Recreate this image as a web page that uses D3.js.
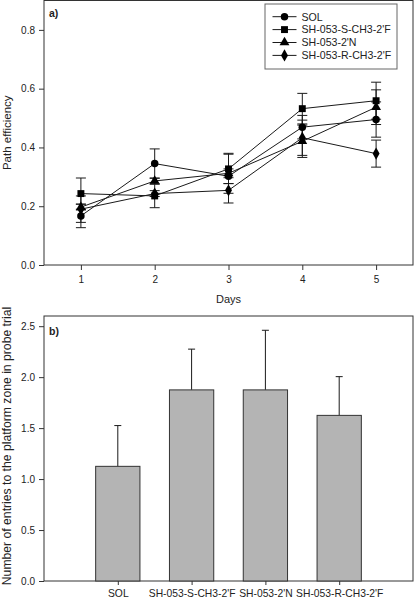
<!DOCTYPE html>
<html><head><meta charset="utf-8">
<script src="https://cdn.jsdelivr.net/npm/d3@7"></script>
<style>body{margin:0;background:#fff}svg{display:block}text{font-family:"Liberation Sans",Arial,sans-serif;fill:#222}</style>
</head><body>
<svg id="c" width="414" height="599"></svg>
<script>
const days = [1, 2, 3, 4, 5];
const seriesNames = ["SOL", "SH-053-S-CH3-2'F", "SH-053-2'N", "SH-053-R-CH3-2'F"];
const solMean = [0.167, 0.345, 0.302, 0.469, 0.495];
const solErr  = [0.040, 0.050, 0.025, 0.040, 0.060];
const sMean   = [0.243, 0.235, 0.327, 0.532, 0.559];
const sErr    = [0.053, 0.040, 0.050, 0.052, 0.063];
const nMean   = [0.197, 0.286, 0.312, 0.421, 0.537];
const nErr    = [0.010, 0.010, 0.068, 0.055, 0.059];
const rMean   = [0.190, 0.243, 0.254, 0.433, 0.379];
const rErr    = [0.045, 0.010, 0.043, 0.060, 0.046];
const yTicksA = [0.0, 0.2, 0.4, 0.6, 0.8];

const barCats  = ["SOL", "SH-053-S-CH3-2'F", "SH-053-2'N", "SH-053-R-CH3-2'F"];
const barMeans = [1.125, 1.875, 1.875, 1.625];
const barErrs  = [0.400, 0.400, 0.585, 0.380];
const yTicksB  = [0.0, 0.5, 1.0, 1.5, 2.0, 2.5];

const svg = d3.select("#c");
const L = 44, R = 413;
const ink = "#1a1a1a";

// ---------- Panel a ----------
const xa = d3.scaleLinear().domain([0.5, 5.5]).range([L, R]);
const ya = d3.scaleLinear().domain([0, 0.9]).range([265, 0.5]);
const ga = svg.append("g");
ga.append("rect").attr("x", L).attr("y", ya(0.9)).attr("width", R - L).attr("height", ya(0) - ya(0.9))
  .attr("fill", "none").attr("stroke", "#333").attr("stroke-width", 1);
ga.append("g").attr("transform", `translate(${L},0)`)
  .call(d3.axisLeft(ya).tickValues(yTicksA).tickFormat(d3.format(".1f")).tickSize(5).tickPadding(4))
  .call(g => { g.select(".domain").remove(); g.selectAll("line").attr("stroke", "#333");
    g.selectAll("text").attr("font-size", 10).attr("fill", "#222").style("font-family", '"Liberation Sans",Arial'); });
ga.append("g").attr("transform", `translate(0,${ya(0)})`)
  .call(d3.axisBottom(xa).tickValues(days).tickFormat(d3.format("d")).tickSize(5).tickPadding(6))
  .call(g => { g.select(".domain").remove(); g.selectAll("line").attr("stroke", "#333");
    g.selectAll("text").attr("font-size", 10).attr("fill", "#222").style("font-family", '"Liberation Sans",Arial'); });
ga.append("text").attr("x", xa(3)).attr("y", 303).attr("text-anchor", "middle").attr("font-size", 11).text("Days");
ga.append("text").attr("transform", `translate(11,${ya(0.45)}) rotate(-90)`).attr("text-anchor", "middle")
  .attr("font-size", 11.5).text("Path efficiency");
ga.append("text").attr("x", 49).attr("y", 17).attr("font-size", 10.5).attr("font-weight", "bold").text("a)");

const symbols = [d3.symbolCircle, d3.symbolSquare, d3.symbolTriangle, d3.symbolDiamond];
const symSizes = [44, 48, 42, 42];
const series = [
  {name: seriesNames[0], m: solMean, e: solErr},
  {name: seriesNames[1], m: sMean, e: sErr},
  {name: seriesNames[2], m: nMean, e: nErr},
  {name: seriesNames[3], m: rMean, e: rErr}
];
const line = d3.line().x((d, i) => xa(days[i])).y(d => ya(d));
series.forEach((s, si) => {
  const g = ga.append("g");
  s.m.forEach((v, i) => {
    const x = xa(days[i]), y1 = ya(v + s.e[i]), y0 = ya(v - s.e[i]);
    g.append("line").attr("x1", x).attr("x2", x).attr("y1", y1).attr("y2", y0).attr("stroke", ink).attr("stroke-width", 1);
    [y1, y0].forEach(yy => g.append("line").attr("x1", x - 5).attr("x2", x + 5).attr("y1", yy).attr("y2", yy).attr("stroke", ink).attr("stroke-width", 1));
  });
  g.append("path").attr("d", line(s.m)).attr("fill", "none").attr("stroke", ink).attr("stroke-width", 1);
});
series.forEach((s, si) => {
  ga.append("g").selectAll("path").data(s.m).join("path")
    .attr("transform", (d, i) => `translate(${xa(days[i])},${ya(d)})`)
    .attr("d", d3.symbol().type(symbols[si]).size(symSizes[si])).attr("fill", "#000");
});
const lg = ga.append("g");
lg.append("rect").attr("x", 265).attr("y", 4).attr("width", 132).attr("height", 65)
  .attr("fill", "#fff").attr("stroke", "#666").attr("stroke-width", 1);
seriesNames.forEach((n, i) => {
  const y = 16.7 + i * 12.9;
  lg.append("line").attr("x1", 272.5).attr("x2", 296.5).attr("y1", y).attr("y2", y).attr("stroke", ink);
  lg.append("path").attr("transform", `translate(284.5,${y})`).attr("d", d3.symbol().type(symbols[i]).size(symSizes[i])).attr("fill", "#000");
  lg.append("text").attr("x", 301.5).attr("y", y + 3.8).attr("font-size", 10.6).text(n);
});

// ---------- Panel b ----------
const xb = d3.scaleLinear().domain([0, 5]).range([L, R]);
const yb = d3.scaleLinear().domain([0, 2.6]).range([581, 316]);
const gb = svg.append("g");
gb.append("rect").attr("x", L).attr("y", yb(2.6)).attr("width", R - L).attr("height", yb(0) - yb(2.6))
  .attr("fill", "none").attr("stroke", "#333").attr("stroke-width", 1);
gb.append("g").attr("transform", `translate(${L},0)`)
  .call(d3.axisLeft(yb).tickValues(yTicksB).tickFormat(d3.format(".1f")).tickSize(5).tickPadding(4))
  .call(g => { g.select(".domain").remove(); g.selectAll("line").attr("stroke", "#333");
    g.selectAll("text").attr("font-size", 10).attr("fill", "#222").style("font-family", '"Liberation Sans",Arial'); });
const bw = xb(0.6) - xb(0);
barCats.forEach((c, i) => {
  const cx = xb(i + 1);
  const yTop = yb(barMeans[i] + barErrs[i]);
  gb.append("line").attr("x1", cx).attr("x2", cx).attr("y1", yb(barMeans[i])).attr("y2", yTop).attr("stroke", ink);
  gb.append("line").attr("x1", cx - 3.5).attr("x2", cx + 3.5).attr("y1", yTop).attr("y2", yTop).attr("stroke", ink);
  gb.append("rect").attr("x", cx - bw / 2).attr("y", yb(barMeans[i])).attr("width", bw)
    .attr("height", yb(0) - yb(barMeans[i])).attr("fill", "#b4b4b4").attr("stroke", "#333").attr("stroke-width", 1);
});
gb.append("g").attr("transform", `translate(0,${yb(0)})`)
  .call(d3.axisBottom(xb).tickValues([1, 2, 3, 4]).tickFormat((d, i) => barCats[i]).tickSize(4).tickPadding(5))
  .call(g => { g.select(".domain").remove(); g.selectAll("line").attr("stroke", "#333");
    g.selectAll("text").attr("font-size", 10.3).attr("fill", "#222").style("font-family", '"Liberation Sans",Arial'); });
gb.append("text").attr("transform", `translate(11,446) rotate(-90)`).attr("text-anchor", "middle")
  .attr("font-size", 12.2).text("Number of entries to the platform zone in probe trial");
gb.append("text").attr("x", 49).attr("y", 335).attr("font-size", 10.5).attr("font-weight", "bold").text("b)");
</script>
</body></html>
